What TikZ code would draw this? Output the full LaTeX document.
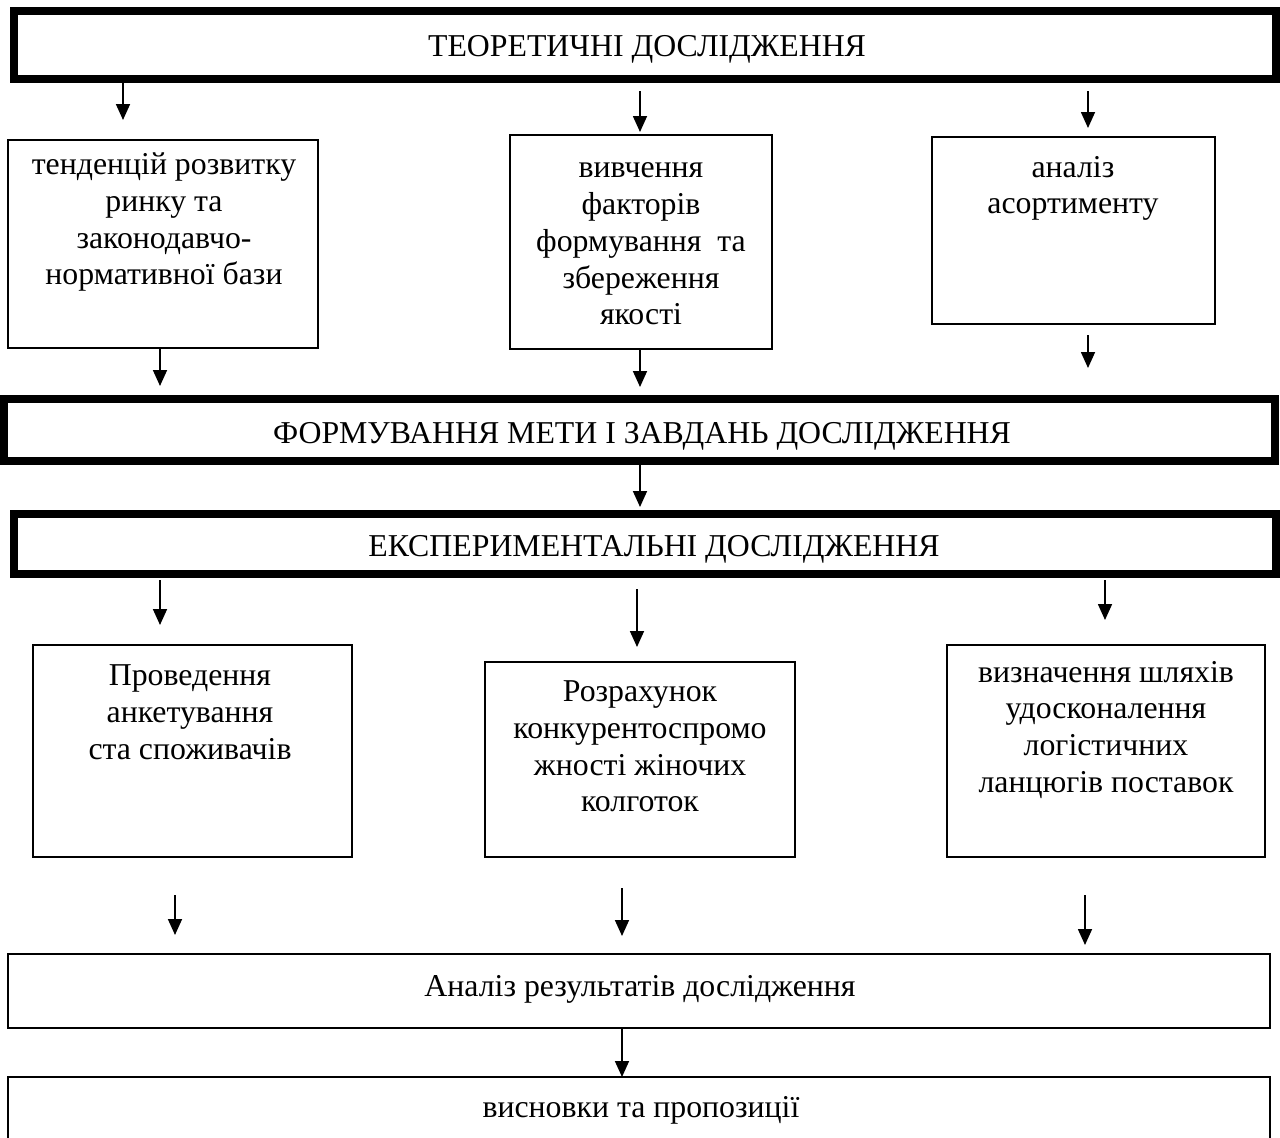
\documentclass[tikz,border=0pt]{standalone}
\usepackage{fontspec}
\setmainfont{Liberation Serif}
\usetikzlibrary{arrows.meta}
\begin{document}
\begin{tikzpicture}[x=1pt,y=-1pt,
  every node/.style={font=\fontsize{31.8}{36.7}\selectfont, inner sep=0pt, outer sep=0pt},
  heavybox/.style={draw, line width=8pt, anchor=north west},
  thinbox/.style={draw, line width=1.6pt, anchor=north west},
  boxtext/.style={align=center, anchor=north, execute at begin node=\strut},
  headtext/.style={anchor=base},
  arr/.style={line width=1.7pt, -{Triangle[width=14pt,length=16pt]}}
]
\path[use as bounding box, clip] (0,0) rectangle (1280,1138);
\fill[white] (0,0) rectangle (1280,1138);

% main (heavy) boxes
\node[heavybox, minimum width=1262pt, minimum height=68pt] (T) at (14,11) {};
\node[heavybox, minimum width=1271pt, minimum height=62pt] (F) at (4,399) {};
\node[heavybox, minimum width=1262pt, minimum height=60pt] (E) at (14,514) {};
\node[headtext] (Tt) at (647,56) {ТЕОРЕТИЧНІ ДОСЛІДЖЕННЯ};
\node[headtext] (Ft) at (642,443) {ФОРМУВАННЯ МЕТИ І ЗАВДАНЬ ДОСЛІДЖЕННЯ};
\node[headtext] (Et) at (654,556) {ЕКСПЕРИМЕНТАЛЬНІ ДОСЛІДЖЕННЯ};

% upper thin boxes
\node[thinbox, minimum width=310pt, minimum height=208pt] (A) at (8,140) {};
\node[thinbox, minimum width=262pt, minimum height=214pt] (B) at (510,135) {};
\node[thinbox, minimum width=283pt, minimum height=187pt] (C) at (932,137) {};
\node[boxtext] (At) at (164,153) {тенденцій розвитку\\ринку та\\законодавчо-\\нормативної бази};
\node[boxtext] (Bt) at (641,163) {вивчення\\факторів\\формування\ \ та\\збереження\\якості};
\node[boxtext] (Ct) at (1073,156) {аналіз\\асортименту};

% lower thin boxes
\node[thinbox, minimum width=319pt, minimum height=212pt] (D) at (33,645) {};
\node[thinbox, minimum width=310pt, minimum height=195pt] (G) at (485,662) {};
\node[thinbox, minimum width=318pt, minimum height=212pt] (H) at (947,645) {};
\node[boxtext] (Dt) at (190,665) {Проведення\\анкетування\\ста споживачів};
\node[boxtext] (Gt) at (640,681) {Розрахунок\\конкурентоспромо\\жності жіночих\\колготок};
\node[boxtext] (Ht) at (1106,661) {визначення шляхів\\удосконалення\\логістичних\\ланцюгів поставок};

% result boxes
\node[thinbox, minimum width=1262pt, minimum height=74pt] (R) at (8,954) {};
\node[thinbox, minimum width=1262pt, minimum height=74pt] (V) at (8,1077) {};
\node[headtext] (Rt) at (640,996) {Аналіз результатів дослідження};
\node[headtext] (Vt) at (641,1117) {висновки та пропозиції};

% arrow end points
\coordinate (a1s) at (123,83);   \coordinate (a1e) at (123,120);
\coordinate (a2s) at (640,91);   \coordinate (a2e) at (640,132);
\coordinate (a3s) at (1088,91);  \coordinate (a3e) at (1088,128);
\coordinate (a4s) at (160,349);  \coordinate (a4e) at (160,386);
\coordinate (a5s) at (640,350);  \coordinate (a5e) at (640,387);
\coordinate (a6s) at (1088,335); \coordinate (a6e) at (1088,368);
\coordinate (a7s) at (640,465);  \coordinate (a7e) at (640,507);
\coordinate (a8s) at (160,580);  \coordinate (a8e) at (160,625);
\coordinate (a9s) at (637,589);  \coordinate (a9e) at (637,647);
\coordinate (a10s) at (1105,580); \coordinate (a10e) at (1105,620);
\coordinate (a11s) at (175,895); \coordinate (a11e) at (175,935);
\coordinate (a12s) at (622,888); \coordinate (a12e) at (622,936);
\coordinate (a13s) at (1085,895); \coordinate (a13e) at (1085,945);

\draw[arr] (a1s) -- (a1e);
\draw[arr] (a2s) -- (a2e);
\draw[arr] (a3s) -- (a3e);
\draw[arr] (a4s) -- (a4e);
\draw[arr] (a5s) -- (a5e);
\draw[arr] (a6s) -- (a6e);
\draw[arr] (a7s) -- (a7e);
\draw[arr] (a8s) -- (a8e);
\draw[arr] (a9s) -- (a9e);
\draw[arr] (a10s) -- (a10e);
\draw[arr] (a11s) -- (a11e);
\draw[arr] (a12s) -- (a12e);
\draw[arr] (a13s) -- (a13e);
\draw[arr] (R.south -| a12s) -- (V.north -| a12s);
\end{tikzpicture}
\end{document}
